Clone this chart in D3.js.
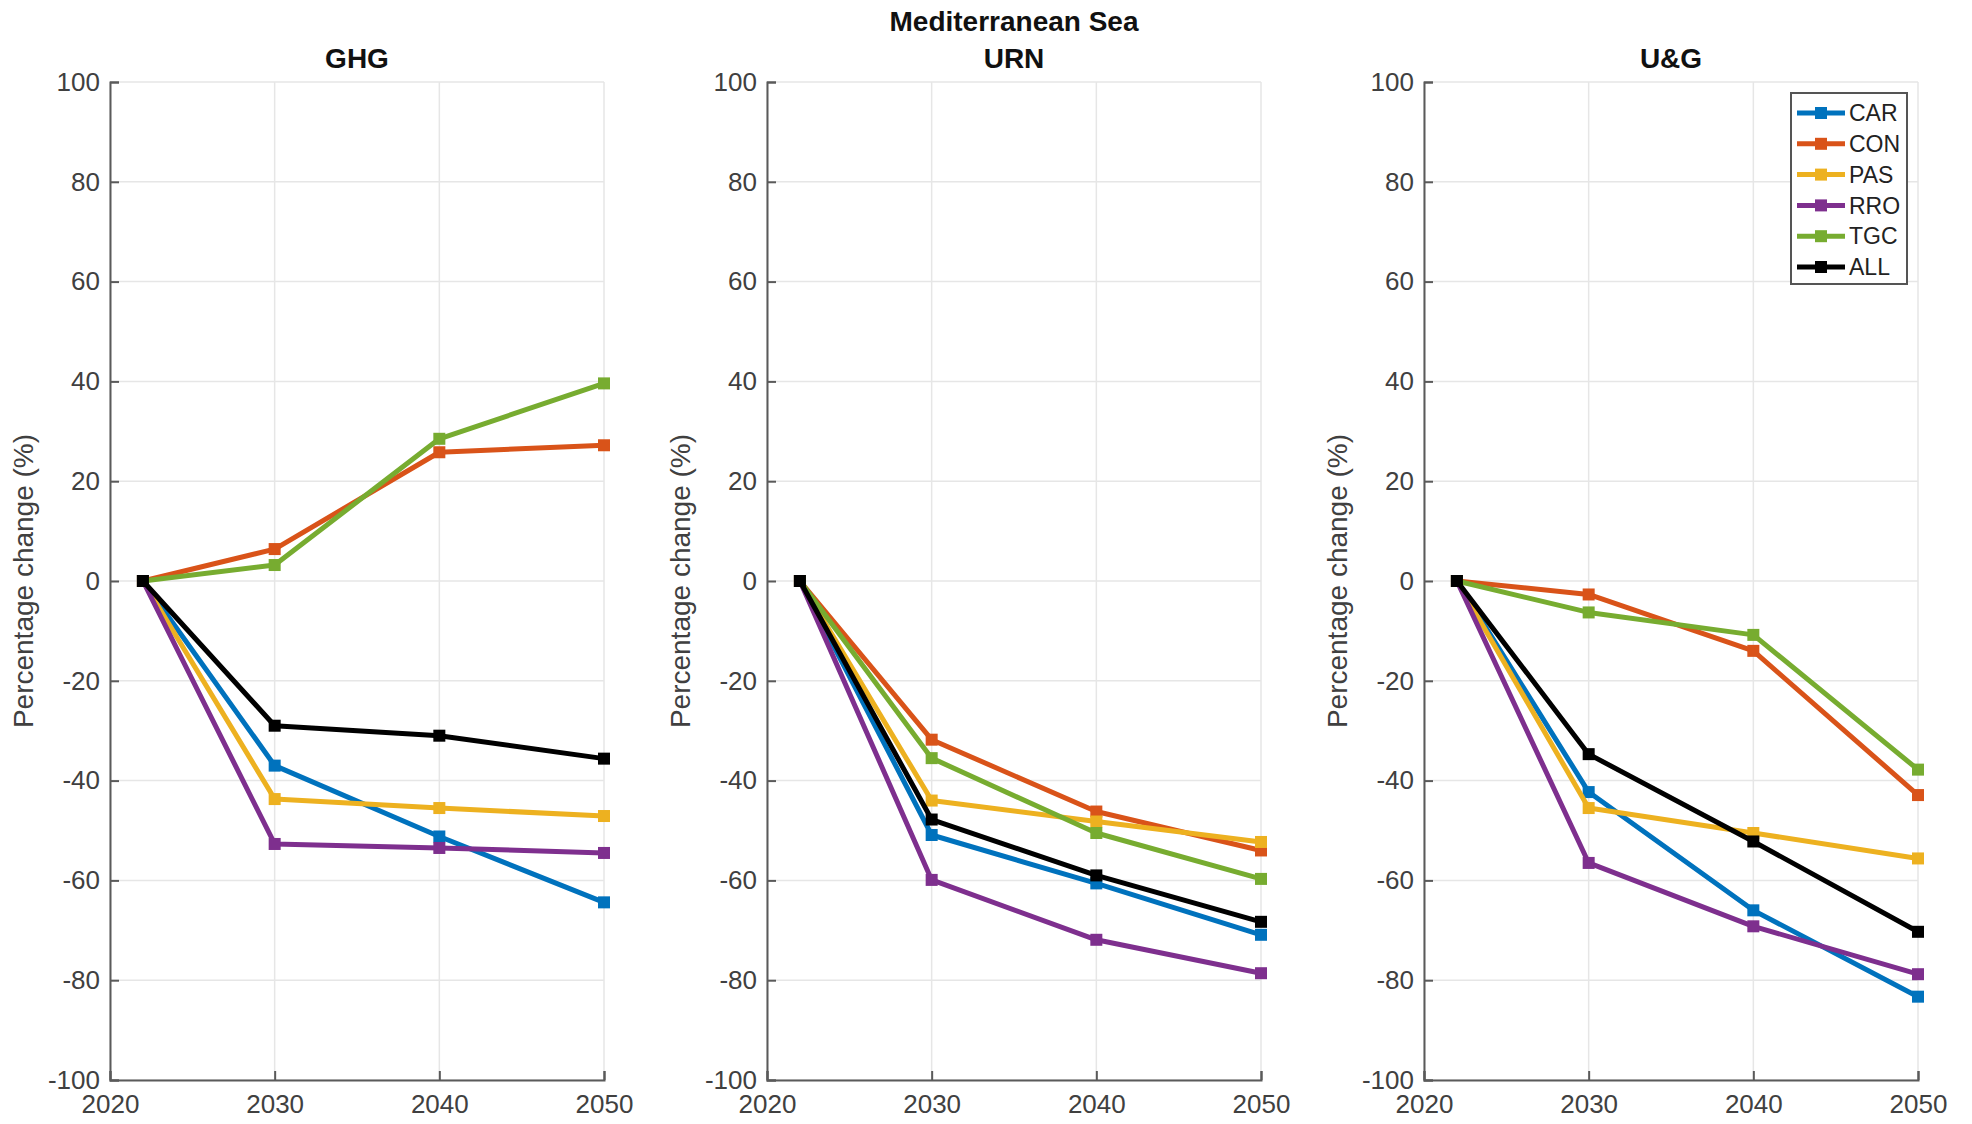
<!DOCTYPE html>
<html>
<head>
<meta charset="utf-8">
<script src="https://cdn.jsdelivr.net/npm/d3@7"></script>
<style>
  body { margin: 0; background: #fff; }
  svg text { font-family: "Liberation Sans", Arial, Helvetica, sans-serif; }
</style>
</head>
<body>
<div id="canvas"></div>
<script>
// data
const years = [2022, 2030, 2040, 2050];
const xTicks = [2020, 2030, 2040, 2050];
const yTicks = [-100, -80, -60, -40, -20, 0, 20, 40, 60, 80, 100];
const seriesNames = ["CAR", "CON", "PAS", "RRO", "TGC", "ALL"];
const seriesColors = ["#0072BD", "#D95319", "#EDB120", "#7E2F8E", "#77AC30", "#000000"];
const panelTitles = ["GHG", "URN", "U&G"];
const mainTitle = "Mediterranean Sea";

const ghgValues = [
  [0, -37.0, -51.2, -64.4],  // CAR
  [0, 6.4, 25.8, 27.2],      // CON
  [0, -43.7, -45.5, -47.1],  // PAS
  [0, -52.7, -53.5, -54.5],  // RRO
  [0, 3.2, 28.5, 39.6],      // TGC
  [0, -29.0, -31.0, -35.6]   // ALL
];
const urnValues = [
  [0, -50.9, -60.6, -70.9],
  [0, -31.8, -46.2, -54.0],
  [0, -44.0, -48.2, -52.3],
  [0, -59.9, -71.9, -78.6],
  [0, -35.5, -50.5, -59.7],
  [0, -47.8, -59.0, -68.3]
];
const ugValues = [
  [0, -42.3, -66.0, -83.3],
  [0, -2.7, -14.0, -42.9],
  [0, -45.5, -50.5, -55.6],
  [0, -56.5, -69.2, -78.8],
  [0, -6.3, -10.8, -37.8],
  [0, -34.7, -52.2, -70.3]
];
const panelValues = [ghgValues, urnValues, ugValues];

const W = 1972, H = 1124;
const plotTop = 82, plotBottom = 1080;
const plotWidth = 494;
const panelLefts = [110, 767, 1424];
const textColor = "#404040";
const axisColor = "#5a5a5a";
const gridColor = "#e6e6e6";
const markerSize = 12;

const svg = d3.select("#canvas").append("svg")
  .attr("width", W)
  .attr("height", H);

svg.append("text")
  .attr("x", panelLefts[1] + plotWidth / 2)
  .attr("y", 31)
  .attr("text-anchor", "middle")
  .attr("font-size", "28px")
  .attr("font-weight", "bold")
  .attr("fill", "#111")
  .text(mainTitle);

const yScale = d3.scaleLinear().domain([-100, 100]).range([plotBottom, plotTop]);

panelTitles.forEach((title, p) => {
  const left = panelLefts[p];
  const xScale = d3.scaleLinear().domain([2020, 2050]).range([0, plotWidth]);
  const g = svg.append("g").attr("transform", "translate(" + left + ",0)");

  // grid
  g.append("g").selectAll("line").data(yTicks).enter().append("line")
    .attr("x1", 0).attr("x2", plotWidth)
    .attr("y1", d => yScale(d)).attr("y2", d => yScale(d))
    .attr("stroke", gridColor).attr("stroke-width", 1.5);
  g.append("g").selectAll("line").data(xTicks).enter().append("line")
    .attr("x1", d => xScale(d)).attr("x2", d => xScale(d))
    .attr("y1", plotTop).attr("y2", plotBottom)
    .attr("stroke", gridColor).attr("stroke-width", 1.5);

  // axes (MATLAB style, ticks pointing inward, plain hyphen minus)
  const yAxis = g.append("g")
    .call(d3.axisLeft(yScale).tickValues(yTicks).tickFormat(d => String(d)).tickSize(-9).tickPadding(10));
  const xAxis = g.append("g")
    .attr("transform", "translate(0," + plotBottom + ")")
    .call(d3.axisBottom(xScale).tickValues(xTicks).tickFormat(d => String(d)).tickSize(-9).tickPadding(15));
  [yAxis, xAxis].forEach(ax => {
    ax.select(".domain").attr("stroke", axisColor).attr("stroke-width", 2);
    ax.selectAll(".tick line").attr("stroke", axisColor).attr("stroke-width", 2);
    ax.selectAll(".tick text").attr("fill", textColor).attr("font-size", "26px");
  });

  // subplot title
  g.append("text")
    .attr("x", plotWidth / 2)
    .attr("y", 68)
    .attr("text-anchor", "middle")
    .attr("font-size", "28px")
    .attr("font-weight", "bold")
    .attr("fill", "#111")
    .text(title);

  // y label
  g.append("text")
    .attr("transform", "translate(" + (-77) + "," + ((plotTop + plotBottom) / 2) + ") rotate(-90)")
    .attr("text-anchor", "middle")
    .attr("font-size", "28px")
    .attr("fill", textColor)
    .text("Percentage change (%)");

  // lines
  const line = d3.line().x((d, i) => xScale(years[i])).y(d => yScale(d));
  panelValues[p].forEach((vals, s) => {
    g.append("path")
      .attr("d", line(vals))
      .attr("fill", "none")
      .attr("stroke", seriesColors[s])
      .attr("stroke-width", 5)
      .attr("stroke-linejoin", "round");
    g.append("g").selectAll("rect").data(vals).enter().append("rect")
      .attr("x", (d, i) => xScale(years[i]) - markerSize / 2)
      .attr("y", d => yScale(d) - markerSize / 2)
      .attr("width", markerSize).attr("height", markerSize)
      .attr("fill", seriesColors[s]);
  });

  // legend in last panel
  if (p === 2) {
    const lx = 367, ly = 93, lw = 116, rowH = 30.8;
    const lg = g.append("g");
    lg.append("rect")
      .attr("x", lx).attr("y", ly)
      .attr("width", lw).attr("height", 191)
      .attr("fill", "#fff").attr("stroke", "#555").attr("stroke-width", 2);
    seriesNames.forEach((name, s) => {
      const cy = ly + 20 + s * rowH;
      lg.append("line")
        .attr("x1", lx + 6).attr("x2", lx + 54)
        .attr("y1", cy).attr("y2", cy)
        .attr("stroke", seriesColors[s]).attr("stroke-width", 5);
      lg.append("rect")
        .attr("x", lx + 30 - markerSize / 2).attr("y", cy - markerSize / 2)
        .attr("width", markerSize).attr("height", markerSize)
        .attr("fill", seriesColors[s]);
      lg.append("text")
        .attr("x", lx + 58).attr("y", cy)
        .attr("dy", "0.36em")
        .attr("font-size", "23px")
        .attr("fill", "#222")
        .text(name);
    });
  }
});
</script>
</body>
</html>
